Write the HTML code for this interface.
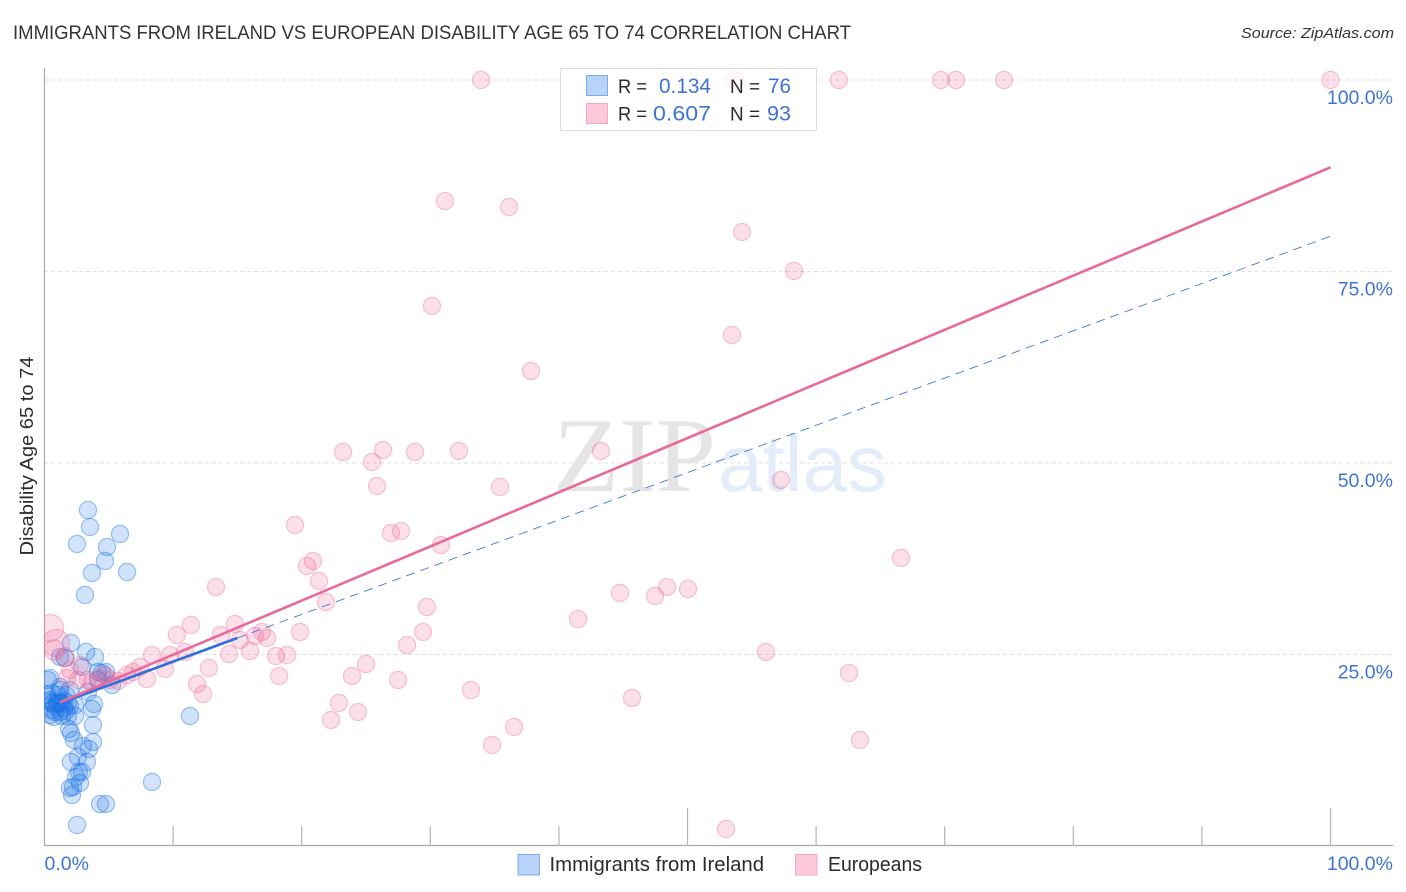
<!DOCTYPE html>
<html>
<head>
<meta charset="utf-8">
<title>Immigrants from Ireland vs European Disability Age 65 to 74 Correlation Chart</title>
<style>
html,body{margin:0;padding:0;background:#fff;}
svg{display:block;font-family:"Liberation Sans",sans-serif;}
</style>
</head>
<body>
<svg id="chart" xmlns="http://www.w3.org/2000/svg" width="1406" height="892" viewBox="0 0 1406 892">
  <defs><clipPath id="plot-clip"><rect x="44" y="60" width="1362" height="786"></rect></clipPath></defs>
  <text x="13" y="39" font-size="19" fill="#33333a" textLength="838" lengthAdjust="spacingAndGlyphs">IMMIGRANTS FROM IRELAND VS EUROPEAN DISABILITY AGE 65 TO 74 CORRELATION CHART</text>
  <text x="1394" y="38" font-size="15" font-style="italic" fill="#333" text-anchor="end" textLength="153" lengthAdjust="spacingAndGlyphs">Source: ZipAtlas.com</text>
  <text transform="translate(33,456) rotate(-90)" font-size="18" fill="#2a2a2f" text-anchor="middle" textLength="199" lengthAdjust="spacingAndGlyphs">Disability Age 65 to 74</text>
  <g id="grid"></g>
  <text x="553" y="491" font-family="'Liberation Serif',serif" font-size="106" fill="#e5e5e5" textLength="163" lengthAdjust="spacingAndGlyphs">ZIP</text>
  <text x="718" y="491" font-size="80" fill="#e3edfa" textLength="169" lengthAdjust="spacingAndGlyphs">atlas</text>
  <g id="axes"></g>
  <g id="points" clip-path="url(#plot-clip)"></g>
  <g id="trends"></g>
  <g id="tick-labels"></g>

  <g>
    <rect x="560.5" y="68.5" width="256" height="62" fill="#fff" fill-opacity="0.82" stroke="#dcdcdc" stroke-width="1"></rect>
    <rect x="586.5" y="75.5" width="21" height="20" fill="#b7d3f7" stroke="#7fabe6"></rect>
    <rect x="586.5" y="103.5" width="21" height="20" fill="#fcc8da" stroke="#f4a9c3"></rect>
    <text x="618" y="93" font-size="19.5" fill="#2a2a2f" textLength="29" lengthAdjust="spacingAndGlyphs">R =</text>
    <text x="659" y="93" font-size="21" fill="#3f74d4" textLength="52" lengthAdjust="spacingAndGlyphs">0.134</text>
    <text x="730" y="93" font-size="19.5" fill="#2a2a2f" textLength="30" lengthAdjust="spacingAndGlyphs">N =</text>
    <text x="768" y="93" font-size="21" fill="#3f74d4" textLength="23" lengthAdjust="spacingAndGlyphs">76</text>
    <text x="618" y="120.5" font-size="19.5" fill="#2a2a2f" textLength="29" lengthAdjust="spacingAndGlyphs">R =</text>
    <text x="653" y="120.5" font-size="21" fill="#3f74d4" textLength="58" lengthAdjust="spacingAndGlyphs">0.607</text>
    <text x="730" y="120.5" font-size="19.5" fill="#2a2a2f" textLength="30" lengthAdjust="spacingAndGlyphs">N =</text>
    <text x="767" y="120.5" font-size="21" fill="#3f74d4" textLength="24" lengthAdjust="spacingAndGlyphs">93</text>
  </g>

  <g>
    <g>
      <rect x="518" y="854.5" width="21.5" height="20.5" fill="#b7d3f7" stroke="#7fabe6"></rect>
      <text x="549.5" y="871" font-size="20" fill="#2a2a2f" textLength="214.5" lengthAdjust="spacingAndGlyphs">Immigrants from Ireland</text>
    </g>
    <g>
      <rect x="795.5" y="854.5" width="21.5" height="20.5" fill="#fcc8da" stroke="#f4a9c3"></rect>
      <text x="828" y="871" font-size="20" fill="#2a2a2f" textLength="94" lengthAdjust="spacingAndGlyphs">Europeans</text>
    </g>
  </g>
</svg>
<script>
const yTickValues = [25, 50, 75, 100];
const yTickLabels = ["25.0%", "50.0%", "75.0%", "100.0%"];
const xTickValues = [10, 20, 30, 40, 50, 60, 70, 80, 90, 100];
const xMajorTicks = [50, 100];
const xEndValues = [0, 100];
const xEndLabels = ["0.0%", "100.0%"];

const irelandX = [3.38,3.54,2.53,4.86,5.87,4.70,3.69,6.42,3.15,11.31,8.36,2.53,4.32,4.78,2.14,1.98,2.22,2.76,2.45,2.92,2.68,2.06,3.30,2.60,3.46,2.99,3.77,2.29,2.06,1.91,3.77,3.69,3.85,0.27,0.19,0.58,1.21,1.67,0.43,0.66,0.97,1.21,1.36,0.82,1.05,1.52,1.83,0.58,1.21,1.67,1.98,0.74,1.36,1.83,2.37,0.43,2.06,3.23,3.93,4.16,4.78,4.47,0.43,1.21,1.59,2.92,3.38,5.25,4.16,1.98,1.05,2.37,0.82,0.27,1.52,1.21];
const irelandY = [43.86,41.64,39.43,39.03,40.73,37.21,35.64,35.77,32.77,16.97,8.36,2.74,5.48,5.48,6.66,7.57,7.70,8.22,9.01,9.66,9.66,10.97,10.97,11.62,12.66,13.05,13.58,13.84,14.75,15.27,15.80,17.89,18.54,21.67,19.71,19.97,20.37,19.71,19.06,18.67,18.67,18.67,18.67,18.28,18.54,18.93,18.67,17.75,17.49,17.62,18.28,16.84,16.97,16.97,16.97,17.10,26.50,25.33,24.67,22.72,22.72,22.58,21.93,20.76,24.54,23.37,20.10,21.02,21.67,20.37,19.71,18.41,17.49,18.80,18.02,24.67];

const europeanX = [0.43,0.89,0.74,1.59,33.94,53.69,61.78,69.71,70.88,74.61,100,31.14,36.12,54.24,58.28,30.13,53.46,37.83,23.21,26.32,25.47,28.81,32.23,43.27,25.86,35.42,57.27,19.48,26.94,27.72,30.83,66.60,20.88,20.41,21.35,13.34,21.89,29.74,44.75,47.47,48.41,50.04,41.49,11.39,14.81,10.30,29.43,19.87,16.91,17.30,13.72,16.37,15.20,28.19,56.10,14.35,15.98,18.00,18.86,10.93,9.76,8.36,25.00,23.91,18.24,27.49,62.56,12.79,9.37,7.43,7.97,11.86,12.33,33.16,45.68,22.90,24.38,22.28,36.51,34.80,63.41,53.00,1.98,2.76,1.75,2.60,3.38,4.16,5.09,5.72,6.42,6.88,4.70,3.69];
const europeanY = [28.46,26.50,25.59,24.67,100,100,100,100,100,100,100,84.20,83.42,80.16,75.07,70.50,66.71,62.01,51.44,51.70,50.13,51.44,51.57,51.57,47.00,46.87,47.78,41.91,40.86,41.12,39.30,37.60,37.21,36.55,34.60,33.81,31.85,31.20,33.03,32.64,33.81,33.55,29.63,28.85,28.98,27.55,27.94,27.94,27.94,27.15,27.55,27.42,26.89,26.24,25.33,25.07,25.46,24.80,24.93,25.33,24.93,24.93,23.76,22.19,22.19,21.67,22.58,23.24,23.11,23.37,21.80,21.15,19.84,20.37,19.32,18.67,17.49,16.45,15.54,13.19,13.84,2.22,22.98,23.63,21.93,21.67,21.67,21.93,21.67,21.54,22.32,22.72,22.32,21.28];
const europeanWeight = [2.5,2.5,1.4,1.2];

const irelandTrend = [17.9, 0.617];
const europeanTrend = [17.9, 0.707];
const trendStart = 1.2;
const irelandSolidEnd = 15;
const trendEnd = 100;

const NS = 'http://www.w3.org/2000/svg';
const xAxis = v => 44.5 + v * 12.86;
const yAxis = v => 846 - v * 7.66;
const make = (parent, tag, attrs) => {
  const el = document.createElementNS(NS, tag);
  for (const k in attrs) el.setAttribute(k, attrs[k]);
  parent.appendChild(el);
  return el;
};
const gridG = document.getElementById('grid');
const axesG = document.getElementById('axes');
const pointsG = document.getElementById('points');
const trendsG = document.getElementById('trends');
const labelsG = document.getElementById('tick-labels');

yTickValues.forEach((v, i) => {
  const line = make(gridG, 'line', {x1: 44, x2: 1393, y1: yAxis(v), y2: yAxis(v), stroke: '#e0e0e0', 'stroke-width': 1, 'stroke-dasharray': '4 3'});
  
  
  const label = make(labelsG, 'text', {x: 1393, y: yAxis(v) + 24, 'text-anchor': 'end', 'font-size': 19.5, fill: '#3f74d4'});
  label.textContent = yTickLabels[i];
  
  
});

const yLine = make(axesG, 'line', {x1: 44.5, x2: 44.5, y1: 68, y2: 846, stroke: '#aaaaaa', 'stroke-width': 1.2});


const xLine = make(axesG, 'line', {x1: 44, x2: 1393, y1: 845.5, y2: 845.5, stroke: '#aaaaaa', 'stroke-width': 1.2});



xTickValues.forEach(v => {
  const top = xMajorTicks.includes(v) ? 808 : 826;
  const tick = make(axesG, 'line', {x1: xAxis(v), x2: xAxis(v), y1: top, y2: 846, stroke: '#b5b5b5', 'stroke-width': 1.2});
  
  
});

xEndValues.forEach((v, i) => {
  const label = make(labelsG, 'text', {x: v === 0 ? xAxis(v) : 1393, y: 870, 'text-anchor': v === 0 ? 'start' : 'end', 'font-size': 19.5, fill: '#3f74d4'});
  label.textContent = xEndLabels[i];
  
  
});

irelandX.forEach((v, i) => {
  const c = make(pointsG, 'circle', {cx: xAxis(v), cy: yAxis(irelandY[i]), r: 8.6, fill: '#1a73e8', 'fill-opacity': 0.2, stroke: '#1a73e8', 'stroke-opacity': 0.42, 'stroke-width': 1.2});
  
  
});
europeanX.forEach((v, i) => {
  const w = europeanWeight[i] || 1;
  const c = make(pointsG, 'circle', {cx: xAxis(v), cy: yAxis(europeanY[i]), r: 8.6 * Math.sqrt(w), fill: '#ec5f8f', 'fill-opacity': 0.2, stroke: '#e9608f', 'stroke-opacity': 0.35, 'stroke-width': 1.2});
  
  
});

const trendY = (t, x) => t[0] + t[1] * x;
const dashed = make(trendsG, 'line', {x1: xAxis(irelandSolidEnd), y1: yAxis(trendY(irelandTrend, irelandSolidEnd)), x2: xAxis(trendEnd), y2: yAxis(trendY(irelandTrend, trendEnd)), stroke: '#3f78d6', 'stroke-width': 0.9, 'stroke-dasharray': '9 6'});


const solid = make(trendsG, 'line', {x1: xAxis(trendStart), y1: yAxis(trendY(irelandTrend, trendStart)), x2: xAxis(irelandSolidEnd), y2: yAxis(trendY(irelandTrend, irelandSolidEnd)), stroke: '#2f6fdc', 'stroke-width': 2.6});


const pink = make(trendsG, 'line', {x1: xAxis(trendStart), y1: yAxis(trendY(europeanTrend, trendStart)), x2: xAxis(trendEnd), y2: yAxis(trendY(europeanTrend, trendEnd)), stroke: '#e9699a', 'stroke-width': 2.6});


</script>
</body>
</html>
